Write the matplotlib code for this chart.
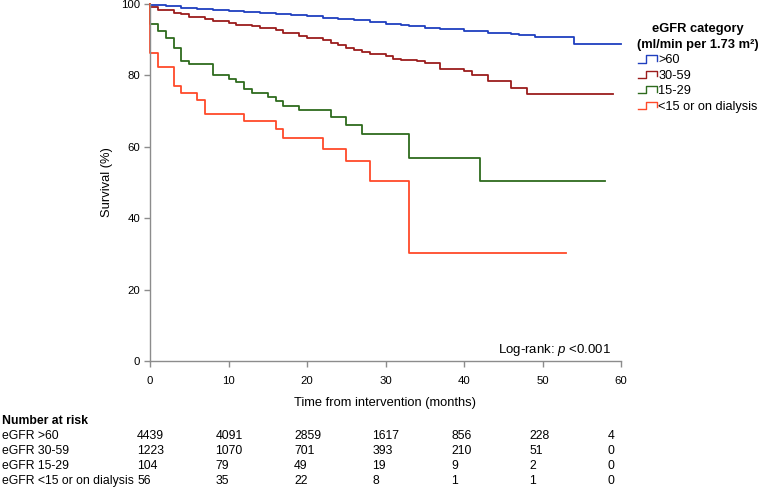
import matplotlib
matplotlib.use("Agg")
import matplotlib.pyplot as plt
from matplotlib.lines import Line2D
from matplotlib.legend_handler import HandlerBase
from matplotlib import transforms

plt.rcParams['font.family'] = ['Liberation Sans', 'DejaVu Sans']
plt.rcParams['mathtext.fontset'] = 'custom'
plt.rcParams['mathtext.rm'] = 'Liberation Sans'
plt.rcParams['mathtext.it'] = 'Liberation Sans:italic'

# ---- data ----
labels = [">60", "30-59", "15-29", "<15 or on dialysis"]
colors = ["#1f3fbf", "#9b1c1c", "#2e6b1e", "#ff4a2a"]

t_gt60 = [0, 2, 4, 6, 8, 10, 12, 14, 16, 18, 20, 22, 24, 26, 28, 30, 32, 33, 35, 37, 40, 43, 46, 47, 49, 54]
s_gt60 = [99.6, 99.3, 99.0, 98.7, 98.4, 98.1, 97.8, 97.5, 97.2, 96.9, 96.6, 96.2, 95.8, 95.4, 95.0,
          94.5, 94.1, 93.8, 93.4, 93.0, 92.5, 92.0, 91.6, 91.3, 90.7, 88.9]
end_gt60 = 60

t_3059 = [0, 1, 3, 4, 5, 7, 8, 10, 11, 13, 14, 16, 17, 19, 20, 22, 23, 24, 25, 26, 27, 28, 30, 31,
          32, 34, 35, 37, 40, 41, 43, 46, 48]
s_3059 = [99.1, 98.3, 97.6, 97.1, 96.4, 95.8, 95.3, 94.6, 94.1, 93.7, 93.2, 92.6, 91.8, 91.1, 90.4,
          89.9, 89.2, 88.4, 87.8, 87.1, 86.5, 86.0, 85.4, 84.7, 84.3, 83.9, 83.6, 81.9, 81.2, 80.2,
          78.5, 76.5, 74.8]
end_3059 = 59

t_1529 = [0, 1, 2, 3, 4, 5, 8, 10, 11, 12, 13, 15, 16, 17, 19, 23, 25, 27, 33, 42]
s_1529 = [94.5, 92.5, 90.6, 87.8, 84.0, 83.2, 80.0, 79.1, 78.2, 76.1, 75.0, 73.9, 72.8, 71.4, 70.3,
          68.3, 66.2, 63.5, 56.9, 50.5]
end_1529 = 58

t_lt15 = [0, 1, 3, 4, 6, 7, 12, 16, 17, 22, 25, 28, 33]
s_lt15 = [86.2, 82.4, 76.9, 75.0, 73.1, 69.3, 67.3, 65.0, 62.5, 59.5, 56.0, 50.3, 30.3]
end_lt15 = 53

risk_times = [0, 10, 20, 30, 40, 50, 60]
risk_rows = ["eGFR >60", "eGFR 30-59", "eGFR 15-29", "eGFR <15 or on dialysis"]
risk_gt60 = [4439, 4091, 2859, 1617, 856, 228, 4]
risk_3059 = [1223, 1070, 701, 393, 210, 51, 0]
risk_1529 = [104, 79, 49, 19, 9, 2, 0]
risk_lt15 = [56, 35, 22, 8, 1, 1, 0]

x_ticks = [0, 10, 20, 30, 40, 50, 60]
y_ticks = [0, 20, 40, 60, 80, 100]

# ---- figure ----
fig = plt.figure(figsize=(7.62, 4.87), dpi=100)
ax = fig.add_axes([150/762, 1-361/487, (621-150)/762, (361-4)/487])

series = [(t_gt60, s_gt60, end_gt60), (t_3059, s_3059, end_3059),
          (t_1529, s_1529, end_1529), (t_lt15, s_lt15, end_lt15)]
handles = []
for (t, s, e), c, lab in zip(series, colors, labels):
    xs = [0] + list(t) + [e]
    ys = [100] + list(s) + [s[-1]]
    ln, = ax.step(xs, ys, where='post', color=c, lw=1.3, label=lab, clip_on=False)
    handles.append(ln)

ax.set_xlim(0, 60)
ax.set_ylim(0, 100)
ax.set_xticks(x_ticks)
ax.set_yticks(y_ticks)
for sp in ['top', 'right']:
    ax.spines[sp].set_visible(False)
for sp in ['left', 'bottom']:
    ax.spines[sp].set_color('#8c8c8c')
    ax.spines[sp].set_linewidth(1.0)
ax.tick_params(axis='both', colors='#8c8c8c', labelcolor='black', length=4.5, width=1.0, labelsize=8.2)
ax.tick_params(axis='x', pad=6.5)
ax.tick_params(axis='y', pad=2.5)
ax.set_ylabel("Survival (%)", fontsize=9.3, labelpad=6)
ax.set_xlabel("Time from intervention (months)", fontsize=9.3, labelpad=8)

ax.text(0.978, 0.008, "Log-rank: $p$ <0.001", transform=ax.transAxes, ha='right', va='bottom', fontsize=9.5)


class StepHandler(HandlerBase):
    def create_artists(self, legend, orig_handle, xdescent, ydescent, width, height, fontsize, trans):
        x0 = -xdescent
        y0 = -ydescent
        xs = [x0, x0 + 0.45*width, x0 + 0.45*width, x0 + width, x0 + width]
        ys = [y0 + 0.1*height, y0 + 0.1*height, y0 + 0.9*height, y0 + 0.9*height, y0 + 0.3*height]
        l = Line2D(xs, ys, color=orig_handle.get_color(), lw=1.0)
        l.set_transform(trans)
        return [l]


leg = fig.legend(handles, labels, loc='upper left', bbox_to_anchor=(628/762, 1-14/487),
                 frameon=False, fontsize=9.2, title="eGFR category\n(ml/min per 1.73 m²)",
                 title_fontsize=9.3, handler_map={Line2D: StepHandler()},
                 handlelength=1.45, handletextpad=0.12, labelspacing=0.27, borderpad=0.2)
leg.get_title().set_fontweight('bold')
leg.get_title().set_multialignment('center')
leg.get_title().set_linespacing(1.45)

# ---- number at risk table ----
trans_y = transforms.blended_transform_factory(ax.transData, fig.transFigure)
trans_num = transforms.offset_copy(trans_y, fig=fig, x=-13, units='dots')
row_y = [1-436/487, 1-451/487, 1-466/487, 1-481/487]
fig.text(0.002, 1-421/487, "Number at risk", fontsize=8.8, fontweight='bold', va='center', ha='left')
for name, vals, yy in zip(risk_rows, [risk_gt60, risk_3059, risk_1529, risk_lt15], row_y):
    fig.text(0.002, yy, name, fontsize=8.8, va='center', ha='left')
    for tt, v in zip(risk_times, vals):
        ax.text(tt, yy, str(v), transform=trans_num, fontsize=8.8, va='center', ha='left', clip_on=False)

fig.savefig("out.png", dpi=100)
